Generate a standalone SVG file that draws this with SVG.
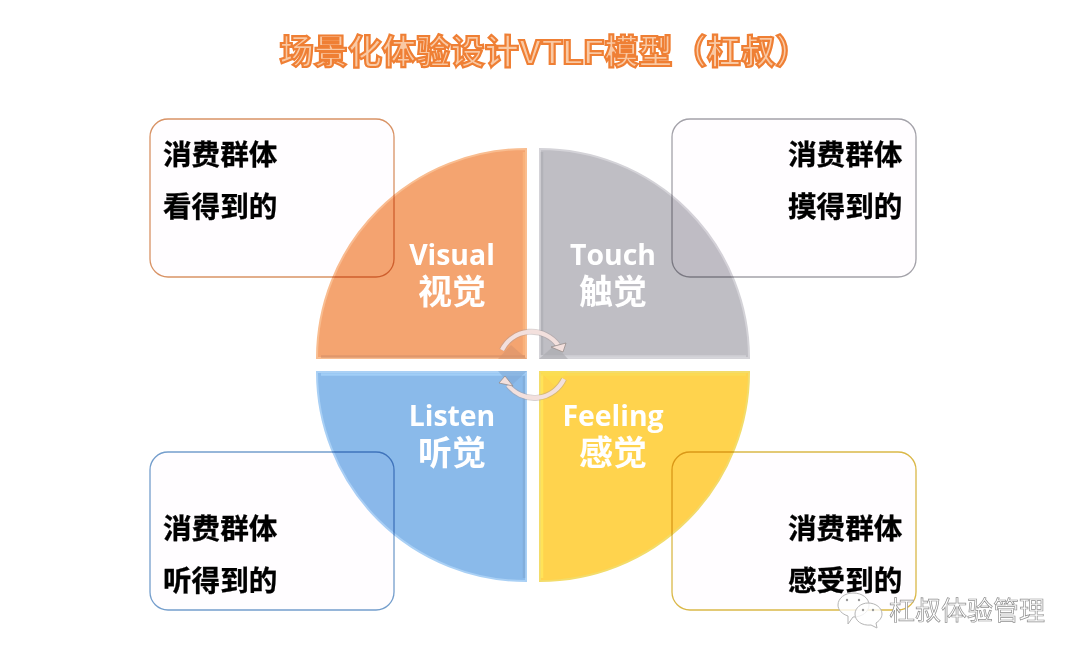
<svg xmlns="http://www.w3.org/2000/svg" width="1080" height="657" viewBox="0 0 1080 657">
<defs>
<style>
.title{font:bold 34.2px "Liberation Sans","Noto Sans CJK SC",sans-serif;fill:#f9c9a4;stroke:#ef7f34;stroke-width:2.2px;text-anchor:middle}
.box{fill:#fffdff;stroke-width:1.3;stroke-opacity:.72;mix-blend-mode:multiply}
.t{font:bold 28.6px "Noto Sans CJK SC",sans-serif;fill:#000;stroke:#000;stroke-width:.3px}
.e{font:bold 28.4px "Open Sans","Noto Sans",sans-serif;fill:#fff;text-anchor:middle}
.c{font:bold 34px "Noto Sans CJK SC",sans-serif;fill:#fff;text-anchor:middle}
.q{stroke-width:2}
.s{stroke-width:2.5;stroke-opacity:.75}
.tri{opacity:.6}
.arc{fill:none;stroke:#a89a98;stroke-opacity:.45;stroke-width:6}
.arc2{fill:none;stroke:#f3e0dd;stroke-width:4.2}
.ah{fill:#f3e0dd;stroke:#8f8583;stroke-width:.7}
.wm{font:26px "Noto Sans CJK SC",sans-serif;fill:#fff;stroke:#8f8f8f;stroke-width:.7}
.bub{fill:#fff;fill-opacity:.8;stroke:#b5b5b5;stroke-width:1}
.eye{fill:#9a9a9a}
</style>
</defs>
<rect width="1080" height="657" fill="#fff"/>
<text class="title" x="544.5" y="64">场景化体验设计VTLF模型（杠叔）</text>
<g id="quad-visual">
<path class="q" d="M526 358H317A209 209 0 0 1 526 149Z" fill="#f4a470" stroke="#f9bd90"/>
<path class="s" d="M524 152V355" stroke="#fbb67f"/><path class="s" d="M321 356.500H525" stroke="#d9936a"/>
<path class="tri" d="M527 359H498L511 345Z" fill="#d9946b"/>
</g>
<g id="quad-touch">
<path class="q" d="M540 358V149A209 209 0 0 1 749 358Z" fill="#bfbec4" stroke="#d4d3d8"/>
<path class="s" d="M542 152V355" stroke="#aeadb4"/><path class="s" d="M541 356.500H746" stroke="#d6d6db"/>
<path class="tri" d="M539 359H568L555 345Z" fill="#a9a8ae"/>
</g>
<g id="quad-listen">
<path class="q" d="M526 372V581A209 209 0 0 1 317 372Z" fill="#8abaea" stroke="#a9d0f5"/>
<path class="s" d="M524 374V578" stroke="#7fa9d6"/><path class="s" d="M321 374.500H525" stroke="#a8d4fb"/>
<path class="tri" d="M527 371H498L511 386Z" fill="#7ea8d6"/>
</g>
<g id="quad-feeling">
<path class="q" d="M540 372H749A209 209 0 0 1 540 581Z" fill="#ffd34d" stroke="#f3dc6a"/>
<path class="s" d="M542 374V578" stroke="#ffe85c"/><path class="s" d="M541 374.500H746" stroke="#f9dd55"/>
<path class="tri" d="M539 371H568L555 386Z" fill="#fbe04f"/>
</g>
<g id="box-tl"><rect class="box" x="150" y="119" width="244" height="158" rx="18" stroke="#c96a2a"/></g>
<g id="box-tr"><rect class="box" x="672" y="119" width="244" height="158" rx="18" stroke="#807e88"/></g>
<g id="box-bl"><rect class="box" x="150" y="452" width="244" height="158" rx="18" stroke="#3f78b8"/></g>
<g id="box-br"><rect class="box" x="672" y="452" width="244" height="158" rx="18" stroke="#cc9c00"/></g>
<g id="connectors">
<path class="arc" d="M502 350A33 33 0 0 1 558 345"/><path class="arc2" d="M502 350A33 33 0 0 1 558 345"/>
<path class="ah" d="M551 347L566 343L563 352Z"/>
<path class="arc" d="M564 379A33 33 0 0 1 508 385"/><path class="arc2" d="M564 379A33 33 0 0 1 508 385"/>
<path class="ah" d="M499 383L505 376L513 386Z"/>
</g>
<g id="text-tl"><text class="t" x="163" y="164.500">消费群体</text><text class="t" x="163" y="216.500">看得到的</text></g>
<g id="text-tr"><text class="t" x="788" y="164.500">消费群体</text><text class="t" x="788" y="216.500">摸得到的</text></g>
<g id="text-bl"><text class="t" x="163" y="538.500">消费群体</text><text class="t" x="163" y="590.500">听得到的</text></g>
<g id="text-br"><text class="t" x="788" y="538.500">消费群体</text><text class="t" x="788" y="590.500">感受到的</text></g>
<g id="label-visual"><text class="e" x="452" y="265">Visual</text><text class="c" x="452" y="304">视觉</text></g>
<g id="label-touch"><text class="e" x="613" y="265">Touch</text><text class="c" x="613" y="304">触觉</text></g>
<g id="label-listen"><text class="e" x="452" y="426">Listen</text><text class="c" x="452" y="465">听觉</text></g>
<g id="label-feeling"><text class="e" x="613" y="426">Feeling</text><text class="c" x="613" y="465">感觉</text></g>
<g id="watermark">
<path class="bub" d="M853 593C862 593 869 598 869 605C869 612 862 617 853 617L848 624L848 616C842 614 838 610 838 605C838 598 845 593 853 593Z"/>
<circle class="eye" cx="847" cy="600" r="1.2"/><circle class="eye" cx="859" cy="600" r="1.2"/>
<path class="bub" d="M868 603C876 603 882 608 882 614C882 618 879 621 876 623L877 628L871 625C862 626 855 621 855 614C855 608 861 603 868 603Z"/>
<circle class="eye" cx="863" cy="610" r="1.2"/><circle class="eye" cx="873" cy="610" r="1.2"/>
<text class="wm" x="889" y="620">杠叔体验管理</text>
</g>
</svg>
